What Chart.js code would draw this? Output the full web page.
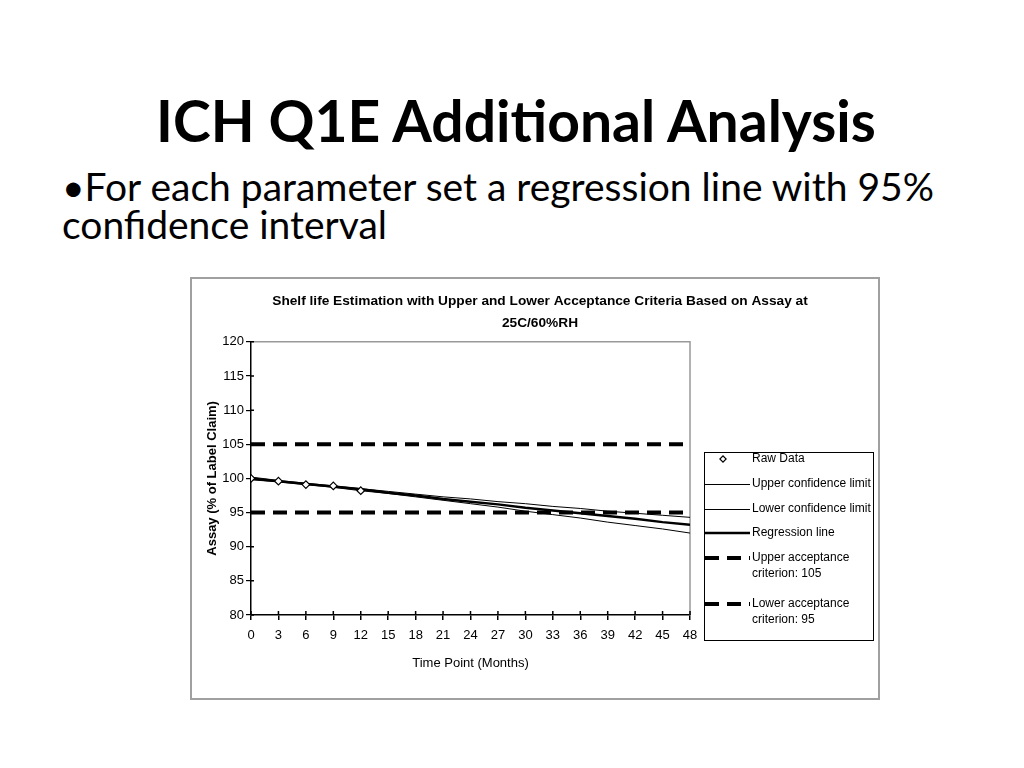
<!DOCTYPE html>
<html>
<head>
<meta charset="utf-8">
<script src="https://cdn.jsdelivr.net/npm/chart.js@4.4.1/dist/chart.umd.min.js"></script>
<style>
  body { margin:0; width:1024px; height:768px; background:#fff; position:relative; overflow:hidden; font-family:Lato, "Open Sans", sans-serif; }
  #title { position:absolute; left:4px; width:1024px; top:86px; text-align:center; font-weight:bold; font-size:57px; line-height:68px; color:#000; }
  #bullet { position:absolute; left:62px; top:167px; width:920px; font-size:39px; line-height:38px; color:#000; }
  #frame { position:absolute; left:190px; top:277px; width:690px; height:423px; border:2px solid #a0a0a0; box-sizing:border-box; }
  #wrap { position:absolute; left:191px; top:278px; width:688px; height:421px; }
</style>
</head>
<body>
<div id="title">ICH Q1E Additional Analysis</div>
<div id="bullet">•For each parameter set a regression line with 95% confidence interval</div>
<div id="frame"></div>
<div id="wrap"><canvas id="myChart" width="688" height="421"></canvas></div>
<script>
// time points (months)
var months = [0, 3, 6, 9, 12, 15, 18, 21, 24, 27, 30, 33, 36, 39, 42, 45, 48];
var rawMonths = [0, 3, 6, 9, 12];
var rawAssay = [100.0, 99.6, 99.1, 98.9, 98.2];
var regression = [100.0, 99.6, 99.2, 98.8, 98.4, 97.9, 97.5, 97.0, 96.6, 96.2, 95.7, 95.3, 94.9, 94.5, 94.1, 93.6, 93.2];
var upperCL = [100.2, 99.7, 99.3, 98.9, 98.5, 98.1, 97.7, 97.3, 97.0, 96.6, 96.3, 95.9, 95.6, 95.2, 94.9, 94.6, 94.3];
var lowerCL = [99.8, 99.5, 99.1, 98.7, 98.2, 97.8, 97.3, 96.8, 96.3, 95.8, 95.2, 94.7, 94.2, 93.6, 93.1, 92.6, 92.0];
var criteriaMonths = [0, 48];
var upperCriterion = [105, 105];
var lowerCriterion = [95, 95];
var yTicks = [80, 85, 90, 95, 100, 105, 110, 115, 120];
var legendLabels = ['Raw Data', 'Upper confidence limit', 'Lower confidence limit', 'Regression line',
  ['Upper acceptance', 'criterion: 105'], ['Lower acceptance', 'criterion: 95']];

function pts(xs, ys) {
  return xs.map(function(x, i) { return { x: x, y: ys[i] }; });
}

var sans = '"Liberation Sans", Arial, sans-serif';

// gray frame on top and right of the plot area + ticks poking inside
var plotFrame = {
  id: 'plotFrame',
  beforeDatasetsDraw: function(chart) {
    var a = chart.chartArea, c = chart.ctx;
    c.save();
    c.strokeStyle = '#999';
    c.lineWidth = 1.5;
    c.beginPath();
    c.moveTo(a.left, a.top);
    c.lineTo(a.right, a.top);
    c.lineTo(a.right, a.bottom);
    c.stroke();
    c.strokeStyle = '#000';
    c.lineWidth = 1.5;
    c.beginPath();
    chart.scales.x.ticks.forEach(function(t) {
      var px = chart.scales.x.getPixelForValue(t.value);
      c.moveTo(px, a.bottom);
      c.lineTo(px, a.bottom - 4);
    });
    chart.scales.y.ticks.forEach(function(t) {
      var py = chart.scales.y.getPixelForValue(t.value);
      c.moveTo(a.left, py);
      c.lineTo(a.left + 3, py);
    });
    c.stroke();
    c.restore();
  }
};

// boxed legend to the right of the plot, like the spreadsheet one
var boxLegend = {
  id: 'boxLegend',
  afterDraw: function(chart) {
    var c = chart.ctx;
    var bx = 513, by = 174, bw = 169, bh = 188;
    var rows = [181, 206, 231, 255, 280, 326];
    c.save();
    c.strokeStyle = '#000';
    c.lineWidth = 1;
    c.strokeRect(bx + 0.5, by + 0.5, bw, bh);
    c.font = '12px ' + sans;
    c.fillStyle = '#000';
    c.textBaseline = 'middle';
    chart.data.datasets.forEach(function(ds, i) {
      var y = rows[i];
      c.save();
      if (ds.showLine === false) {
        c.translate(bx + 19, y);
        c.rotate(Math.PI / 4);
        c.fillStyle = '#fff';
        c.strokeStyle = '#000';
        c.lineWidth = 1.2;
        c.fillRect(-2.2, -2.2, 4.4, 4.4);
        c.strokeRect(-2.2, -2.2, 4.4, 4.4);
      } else {
        var yy = ds.borderWidth === 1 ? y + 0.5 : y;
        c.strokeStyle = '#000';
        c.lineWidth = ds.borderWidth;
        c.setLineDash(ds.borderDash || []);
        c.beginPath();
        c.moveTo(bx + 1, yy);
        c.lineTo(bx + 46, yy);
        c.stroke();
      }
      c.restore();
      var lab = legendLabels[i];
      if (Array.isArray(lab)) {
        c.fillText(lab[0], bx + 48, y);
        c.fillText(lab[1], bx + 48, y + 16);
      } else {
        c.fillText(lab, bx + 48, y);
      }
    });
    c.restore();
  }
};

const ctx = document.getElementById('myChart').getContext('2d');
const myChart = new Chart(ctx, {
  type: 'line',
  data: {
    datasets: [{
      label: 'Raw Data',
      data: pts(rawMonths, rawAssay),
      showLine: false,
      pointStyle: 'rectRot',
      pointRadius: 3.8,
      pointBackgroundColor: '#fff',
      pointBorderColor: '#000',
      pointBorderWidth: 1.2,
      order: 0
    }, {
      label: 'Upper confidence limit',
      data: pts(months, upperCL),
      borderColor: '#000',
      borderWidth: 1,
      pointRadius: 0
    }, {
      label: 'Lower confidence limit',
      data: pts(months, lowerCL),
      borderColor: '#000',
      borderWidth: 1,
      pointRadius: 0
    }, {
      label: 'Regression line',
      data: pts(months, regression),
      borderColor: '#000',
      borderWidth: 2.5,
      pointRadius: 0
    }, {
      label: 'Upper acceptance criterion: 105',
      data: pts(criteriaMonths, upperCriterion),
      borderColor: '#000',
      borderWidth: 4,
      borderDash: [14, 8],
      pointRadius: 0
    }, {
      label: 'Lower acceptance criterion: 95',
      data: pts(criteriaMonths, lowerCriterion),
      borderColor: '#000',
      borderWidth: 4,
      borderDash: [14, 8],
      pointRadius: 0
    }]
  },
  options: {
    responsive: false,
    animation: false,
    layout: { padding: { left: 10, right: 0, top: 12, bottom: 24 } },
    scales: {
      x: {
        type: 'linear',
        min: 0,
        max: 48,
        afterFit: function(s) { s.height = 60; },
        ticks: { stepSize: 3, color: '#000', font: { size: 13, family: sans }, padding: 8 },
        grid: { drawOnChartArea: false, color: '#000', tickLength: 5, lineWidth: 1.5 },
        border: { color: '#000', width: 1.5 },
        title: { display: true, text: 'Time Point (Months)', color: '#000', font: { size: 13, family: sans }, padding: { top: 4 } }
      },
      y: {
        min: 80,
        max: 120,
        afterFit: function(s) { s.width = 50; },
        afterBuildTicks: function(s) { s.ticks = yTicks.map(function(v) { return { value: v }; }); },
        ticks: { color: '#000', font: { size: 13, family: sans }, padding: 2 },
        grid: { drawOnChartArea: false, color: '#000', tickLength: 5, lineWidth: 1.2 },
        border: { color: '#000', width: 1.5 },
        title: { display: true, text: 'Assay (% of Label Claim)', color: '#000', font: { size: 13, weight: 'bold', family: sans }, padding: { bottom: 4 } }
      },
      // empty axis on the right keeps room for the legend box
      legendRoom: {
        type: 'linear',
        position: 'right',
        display: true,
        afterFit: function(s) { s.width = 189; },
        ticks: { display: false },
        grid: { display: false },
        border: { display: false }
      }
    },
    plugins: {
      legend: { display: false },
      tooltip: { enabled: false },
      title: {
        display: true,
        text: ['Shelf life Estimation with Upper and Lower Acceptance Criteria Based on Assay at', '25C/60%RH'],
        color: '#000',
        font: { size: 13.7, weight: 'bold', family: sans, lineHeight: 1.6 },
        padding: { top: 0, bottom: 8 }
      }
    }
  },
  plugins: [plotFrame, boxLegend]
});
</script>
</body>
</html>
